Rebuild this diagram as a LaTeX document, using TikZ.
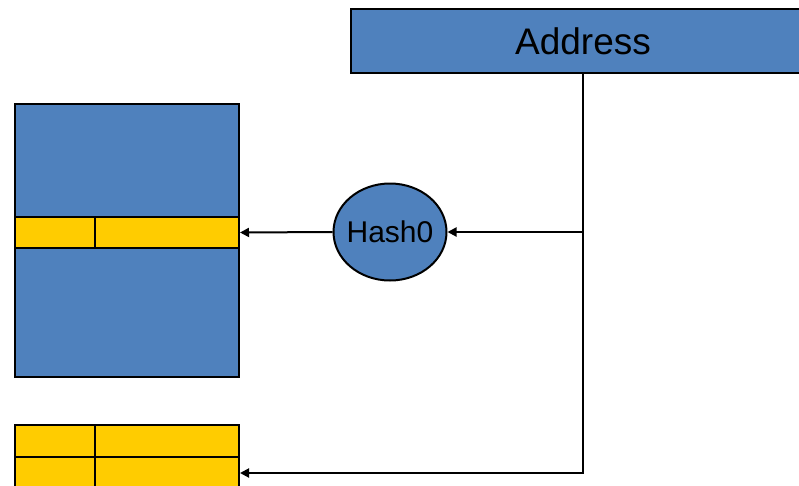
\documentclass[tikz,border=0pt]{standalone}
\usepackage{fontspec}
\setmainfont{Liberation Sans}
\usetikzlibrary{arrows.meta,shapes.geometric}
\definecolor{boxblue}{HTML}{4F81BD}
\definecolor{cellyellow}{HTML}{FFCC00}
\begin{document}
\begin{tikzpicture}[x=1pt,y=-1pt,line width=2pt,
  bluebox/.style={draw=black,fill=boxblue,inner sep=0pt,anchor=north west},
  cellbox/.style={draw=black,fill=cellyellow,inner sep=0pt,anchor=north west,minimum height=32pt},
  conn/.style={draw=black,line width=2pt,-{Triangle[length=9pt,width=9pt]}}]
\useasboundingbox (0,0) rectangle (799,485);
\clip (0,0) rectangle (799,485);
% Address bar
\node[bluebox,minimum width=464pt,minimum height=64pt,font=\fontsize{37}{40}\selectfont] (addr) at (350,8) {Address};
% memory block
\node[bluebox,minimum width=224pt,minimum height=273pt] (mem) at (14,103) {};
\node[cellbox,minimum width=80pt,minimum height=31pt] (s1) at (14,216) {};
\node[cellbox,minimum width=144pt,minimum height=31pt] (s2) at (94,216) {};
% bottom table
\node[cellbox,minimum width=80pt] (b1) at (14,424) {};
\node[cellbox,minimum width=144pt] (b2) at (94,424) {};
\node[cellbox,minimum width=80pt] (b3) at (14,456) {};
\node[cellbox,minimum width=144pt] (b4) at (94,456) {};
% hash
\node[ellipse,draw=black,fill=boxblue,inner xsep=-8pt,inner ysep=0pt,minimum width=113pt,minimum height=97pt,font=\fontsize{30}{32}\selectfont] (hash) at (390,232) {Hash0};
% connectors
\coordinate (j1) at (582,232);
\draw[conn] (addr.south) |- (b4.east);
\draw[conn] (j1) -- (hash.east);
\draw[conn] (hash.west) -- (s2.east);
\end{tikzpicture}
\end{document}
